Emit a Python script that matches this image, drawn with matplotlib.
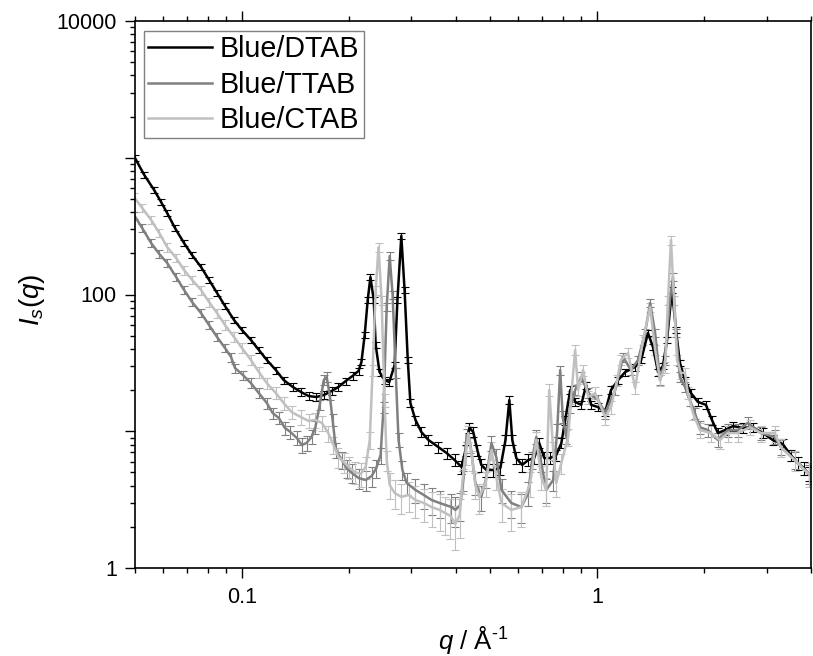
import numpy as np
import matplotlib
matplotlib.use("Agg")
import matplotlib.pyplot as plt
from matplotlib.ticker import LogLocator, FuncFormatter, NullFormatter
from matplotlib.lines import Line2D

plt.rcParams['font.family'] = ['Liberation Sans', 'DejaVu Sans']
plt.rcParams['mathtext.fontset'] = 'custom'
plt.rcParams['mathtext.rm'] = 'Liberation Sans'
plt.rcParams['mathtext.it'] = 'Liberation Sans:italic'
plt.rcParams['mathtext.bf'] = 'Liberation Sans:bold'

labels = ['Blue/DTAB', 'Blue/TTAB', 'Blue/CTAB']
colors = ['black', '#808080', '#c0c0c0']

# Blue/DTAB
dtab_q = [0.0500, 0.0531, 0.0566, 0.0592, 0.0616, 0.0648, 0.0687, 0.0724, 0.0767, 0.0808,
          0.0851, 0.0896, 0.0950, 0.100, 0.106, 0.1116, 0.1175, 0.1246, 0.131, 0.139,
          0.1465, 0.154, 0.162, 0.170, 0.179, 0.187, 0.196, 0.205, 0.213, 0.217,
          0.2216, 0.226, 0.230, 0.235, 0.238, 0.244, 0.252, 0.260, 0.269, 0.274,
          0.281, 0.287, 0.293, 0.298, 0.308, 0.320, 0.335, 0.357, 0.377, 0.397,
          0.415, 0.426, 0.437, 0.448, 0.460, 0.472, 0.488, 0.510, 0.534, 0.552,
          0.566, 0.577, 0.592, 0.615, 0.640, 0.665, 0.687, 0.710, 0.738, 0.767,
          0.793, 0.813, 0.840, 0.867, 0.902, 0.931, 0.962, 1.007, 1.053, 1.094,
          1.146, 1.199, 1.279, 1.330, 1.390, 1.436, 1.484, 1.532, 1.573, 1.624,
          1.667, 1.710, 1.767, 1.837, 1.921, 2.024, 2.104, 2.188, 2.290, 2.410,
          2.570, 2.742, 2.926, 3.122, 3.329, 3.508, 3.669, 3.814, 3.94]
dtab_i = [995, 748, 581, 475, 394, 306, 238, 194, 159, 128,
          102.6, 82.4, 65.1, 55.0, 46.5, 39.3, 33.2, 28.0, 23.7, 21.1,
          19.4, 18.1, 17.8, 18.4, 19.7, 21.1, 23.3, 25.4, 27.6, 32.1,
          50.6, 91.2, 134, 91.2, 42.7, 27.1, 23.7, 22.9, 30.5, 91.2,
          268, 108, 33.2, 16.1, 12.1, 9.87, 8.63, 7.67, 6.93, 6.16,
          5.48, 7.29, 10.6, 9.87, 7.29, 5.67, 5.21, 5.21, 5.39, 8.63,
          16.9, 8.63, 6.37, 5.67, 6.16, 6.37, 8.20, 6.37, 6.37, 6.70,
          8.20, 12.1, 20.0, 16.4, 15.6, 21.8, 15.6, 15.0, 13.8, 20.0,
          23.7, 27.1, 29.5, 33.2, 52.3, 41.3, 27.1, 30.0, 46.5, 108,
          55.0, 31.6, 23.7, 19.0, 16.4, 15.6, 12.1, 9.71, 10.2, 10.9,
          10.6, 10.7, 9.71, 8.63, 8.07, 6.70, 5.86, 5.39, 4.87]
dtab_err = [45, 34, 26, 22, 18, 14, 11, 9.1, 7.5, 6.1,
            5.0, 4.1, 3.3, 2.8, 2.4, 2.1, 1.8, 1.6, 1.4, 1.3,
            1.2, 1.2, 1.2, 1.2, 1.2, 1.3, 1.4, 1.5, 1.6, 1.8,
            2.6, 4.5, 6.4, 4.5, 2.3, 1.6, 1.4, 1.4, 1.7, 4.5,
            12.4, 5.2, 1.8, 1.1, 0.9, 0.8, 0.74, 0.7, 0.66, 0.63,
            0.6, 0.68, 0.83, 0.8, 0.68, 0.6, 0.58, 0.58, 0.59, 0.74,
            1.1, 0.74, 0.64, 0.6, 0.63, 0.64, 0.72, 0.64, 0.64, 0.65,
            0.72, 0.9, 1.25, 1.1, 1.05, 1.3, 1.05, 1.0, 0.97, 1.25,
            1.4, 1.6, 1.7, 1.8, 2.7, 2.2, 1.6, 1.7, 2.4, 5.2,
            2.8, 1.8, 1.4, 1.2, 1.1, 1.05, 0.9, 0.79, 0.81, 0.84,
            0.83, 0.83, 0.79, 0.74, 0.71, 0.65, 0.61, 0.59, 0.57]

# Blue/TTAB
ttab_q = [0.0497, 0.0524, 0.0555, 0.0585, 0.0616, 0.0653, 0.0687, 0.0724, 0.0767, 0.0808,
          0.0851, 0.0896, 0.0932, 0.0956, 0.1006, 0.106, 0.1116, 0.1175, 0.122, 0.127,
          0.132, 0.137, 0.1427, 0.1474, 0.152, 0.157, 0.161, 0.1656, 0.170, 0.1732,
          0.1767, 0.180, 0.184, 0.191, 0.197, 0.204, 0.213, 0.223, 0.232, 0.239,
          0.2457, 0.2504, 0.2556, 0.2606, 0.2656, 0.271, 0.276, 0.283, 0.291, 0.308,
          0.325, 0.342, 0.360, 0.389, 0.399, 0.412, 0.420, 0.429, 0.440, 0.454,
          0.472, 0.488, 0.504, 0.520, 0.538, 0.573, 0.612, 0.640, 0.656, 0.674,
          0.696, 0.719, 0.752, 0.772, 0.787, 0.800, 0.818, 0.840, 0.867, 0.902,
          0.944, 1.007, 1.053, 1.124, 1.183, 1.246, 1.303, 1.364, 1.410, 1.456,
          1.503, 1.553, 1.603, 1.635, 1.667, 1.710, 1.767, 1.824, 1.884, 1.946,
          2.050, 2.188, 2.333, 2.489, 2.656, 2.888, 3.162, 3.288, 3.597, 3.94]
ttab_i = [381, 306, 238, 198, 170, 134, 108, 88.1, 73.2, 59.8,
          48.9, 40.6, 34.9, 29.0, 25.8, 22.5, 19.0, 16.1, 13.6, 12.5,
          10.6, 9.87, 8.93, 7.93, 8.20, 9.08, 10.7, 15.6, 23.7, 24.9,
          18.4, 12.1, 7.29, 6.16, 5.39, 4.95, 4.55, 4.40, 4.71, 5.39,
          6.70, 15.0, 81.0, 191, 99.2, 26.7, 8.63, 5.21, 4.18, 3.72,
          3.42, 3.14, 2.99, 2.79, 2.66, 2.89, 4.40, 9.39, 7.93, 4.18,
          3.31, 4.63, 8.20, 6.48, 3.72, 2.99, 2.79, 3.54, 6.16, 9.08,
          5.86, 3.72, 4.40, 10.2, 28.0, 12.7, 9.08, 15.0, 20.0, 24.9,
          19.0, 16.9, 13.6, 20.0, 34.9, 28.0, 33.2, 52.3, 86.7, 52.3,
          23.7, 33.2, 91.2, 134, 52.3, 24.9, 21.1, 16.9, 13.6, 10.7,
          10.2, 8.63, 10.2, 10.2, 11.5, 9.71, 9.08, 7.67, 6.16, 4.87]
ttab_err = [23, 19, 15, 12, 11, 8.5, 7.0, 5.8, 4.9, 4.1,
            3.4, 2.9, 2.6, 2.2, 2.0, 1.9, 1.6, 1.5, 1.3, 1.25,
            1.15, 1.1, 1.05, 0.98, 1.0, 1.05, 1.15, 1.4, 1.9, 2.0,
            1.6, 1.2, 0.94, 0.87, 0.82, 0.8, 0.77, 0.76, 0.78, 0.82,
            0.9, 1.4, 5.4, 12, 6.5, 2.1, 1.0, 0.81, 0.75, 0.72,
            0.7, 0.69, 0.68, 0.67, 0.66, 0.67, 0.76, 1.06, 0.98, 0.75,
            0.7, 0.78, 1.0, 0.89, 0.72, 0.68, 0.67, 0.71, 0.87, 1.05,
            0.85, 0.72, 0.76, 1.1, 2.2, 1.26, 1.05, 1.4, 1.7, 2.0,
            1.6, 1.5, 1.3, 1.7, 2.6, 2.2, 2.5, 3.6, 5.7, 3.6,
            1.9, 2.5, 6.0, 8.5, 3.6, 2.0, 1.8, 1.5, 1.3, 1.15,
            1.1, 1.0, 1.1, 1.1, 1.2, 1.1, 1.05, 0.96, 0.87, 0.79]

# Blue/CTAB
ctab_q = [0.0497, 0.0524, 0.0555, 0.0585, 0.0616, 0.0653, 0.0687, 0.0724, 0.0767, 0.0808,
          0.0851, 0.0896, 0.0950, 0.100, 0.106, 0.1116, 0.1175, 0.1246, 0.131, 0.138,
          0.1465, 0.154, 0.161, 0.168, 0.175, 0.181, 0.187, 0.1935, 0.200, 0.2077,
          0.216, 0.223, 0.229, 0.2333, 0.238, 0.2424, 0.2473, 0.252, 0.2556, 0.2606,
          0.269, 0.281, 0.2945, 0.308, 0.325, 0.342, 0.360, 0.374, 0.3865, 0.399,
          0.410, 0.418, 0.426, 0.434, 0.4456, 0.454, 0.466, 0.485, 0.504, 0.520,
          0.538, 0.573, 0.612, 0.648, 0.674, 0.696, 0.719, 0.733, 0.752, 0.767,
          0.793, 0.829, 0.845, 0.867, 0.884, 0.913, 0.944, 0.987, 1.053, 1.094,
          1.138, 1.167, 1.222, 1.279, 1.346, 1.410, 1.456, 1.503, 1.553, 1.583,
          1.614, 1.646, 1.678, 1.722, 1.767, 1.801, 1.861, 1.946, 2.090, 2.216,
          2.333, 2.489, 2.690, 2.888, 3.162, 3.288, 3.597, 3.94]
ctab_i = [516, 429, 351, 282, 222, 185, 151, 128, 108, 88.1,
          73.2, 59.8, 48.9, 40.6, 33.2, 27.1, 22.5, 19.0, 16.1, 13.8,
          12.7, 11.9, 12.1, 11.5, 9.71, 7.93, 6.48, 5.96, 5.48, 5.04,
          4.87, 5.48, 8.63, 28.0, 108, 222, 91.2, 16.9, 6.16, 4.05,
          3.54, 3.31, 3.42, 3.14, 2.99, 2.79, 2.66, 2.52, 2.40, 2.10,
          2.44, 4.40, 6.70, 9.71, 6.16, 4.05, 3.31, 4.18, 7.29, 4.63,
          2.99, 2.66, 2.79, 4.18, 8.63, 4.63, 3.72, 20.0, 7.29, 4.18,
          5.86, 9.08, 17.8, 39.3, 20.0, 28.0, 17.8, 19.0, 12.7, 15.0,
          23.7, 33.2, 37.3, 20.7, 46.5, 81.0, 39.3, 23.7, 29.5, 91.2,
          250, 91.2, 33.2, 26.7, 26.7, 19.0, 13.6, 10.2, 9.71, 8.63,
          9.71, 9.71, 10.7, 9.71, 9.71, 7.67, 6.16, 4.87]
ctab_err = [37, 31, 25, 20, 16, 13, 11, 9.6, 8.2, 6.8,
            5.7, 4.8, 4.0, 3.4, 2.9, 2.5, 2.2, 1.9, 1.7, 1.6,
            1.5, 1.4, 1.45, 1.4, 1.3, 1.15, 1.05, 1.0, 0.98, 0.95,
            0.94, 0.98, 1.2, 2.6, 8.2, 16, 7.0, 1.8, 1.03, 0.88,
            0.85, 0.83, 0.84, 0.82, 0.81, 0.8, 0.79, 0.78, 0.77, 0.75,
            0.77, 0.91, 1.07, 1.3, 1.03, 0.88, 0.83, 0.89, 1.1, 0.92,
            0.81, 0.79, 0.8, 0.89, 1.2, 0.92, 0.86, 2.0, 1.1, 0.89,
            1.0, 1.24, 1.85, 3.35, 2.0, 2.6, 1.85, 1.9, 1.5, 1.65,
            2.25, 2.9, 3.2, 2.05, 3.9, 6.3, 3.35, 2.25, 2.65, 7.0,
            18, 7.0, 2.9, 2.5, 2.5, 1.9, 1.55, 1.3, 1.3, 1.2,
            1.3, 1.3, 1.35, 1.3, 1.3, 1.15, 1.03, 0.94]

series = [(dtab_q, dtab_i, dtab_err), (ttab_q, ttab_i, ttab_err), (ctab_q, ctab_i, ctab_err)]

fig = plt.figure(figsize=(8.13, 6.56), dpi=100)
ax = fig.add_axes([135 / 813, 1 - 568 / 656, 676 / 813, 547 / 656])

for (q, inten, err), c in zip(series, colors):
    ax.errorbar(q, inten, yerr=err, color=c, lw=1.8, elinewidth=0.8,
                capsize=3.2, capthick=0.8)

ax.set_xscale('log')
ax.set_yscale('log')
ax.set_xlim(0.05, 4)
ax.set_ylim(1, 10000)

ax.xaxis.set_major_locator(LogLocator(base=10))
ax.xaxis.set_major_formatter(FuncFormatter(lambda v, p: f'{v:g}'))
ax.xaxis.set_minor_locator(LogLocator(base=10, subs=np.arange(2, 10)))
ax.xaxis.set_minor_formatter(NullFormatter())
ax.yaxis.set_major_locator(LogLocator(base=10, numticks=10))
ax.yaxis.set_major_formatter(FuncFormatter(
    lambda v, p: f'{v:g}' if round(np.log10(v)) % 2 == 0 else ''))
ax.yaxis.set_minor_locator(LogLocator(base=10, subs=np.arange(2, 10), numticks=20))
ax.yaxis.set_minor_formatter(NullFormatter())

ax.tick_params(which='both', direction='out', top=True, right=False,
               width=1.0, labelsize=15.5)
ax.tick_params(which='major', length=7)
ax.tick_params(which='minor', length=3.8)
ax.tick_params(axis='x', which='major', pad=7)
ax.tick_params(axis='y', which='major', pad=6)
for sp in ax.spines.values():
    sp.set_linewidth(1.2)

handles = [Line2D([], [], color=c, lw=1.8) for c in colors]
leg = ax.legend(handles, labels, loc='upper left', bbox_to_anchor=(0.0133, 0.982),
                borderaxespad=0, fontsize=20.6, handlelength=2.23, handletextpad=0.28,
                labelspacing=0.26, borderpad=0.15, fancybox=False,
                edgecolor='#808080', framealpha=1)
leg.get_frame().set_linewidth(1.0)

ax.set_xlabel(r'$q$ / Å$^{\text{-1}}$', fontsize=18.5)
ax.xaxis.set_label_coords(0.5, -0.103)
ax.set_ylabel(r'$I_s(q)$', fontsize=20)
ax.yaxis.set_label_coords(-0.13, 0.49)

fig.savefig('out.png', dpi=100)
